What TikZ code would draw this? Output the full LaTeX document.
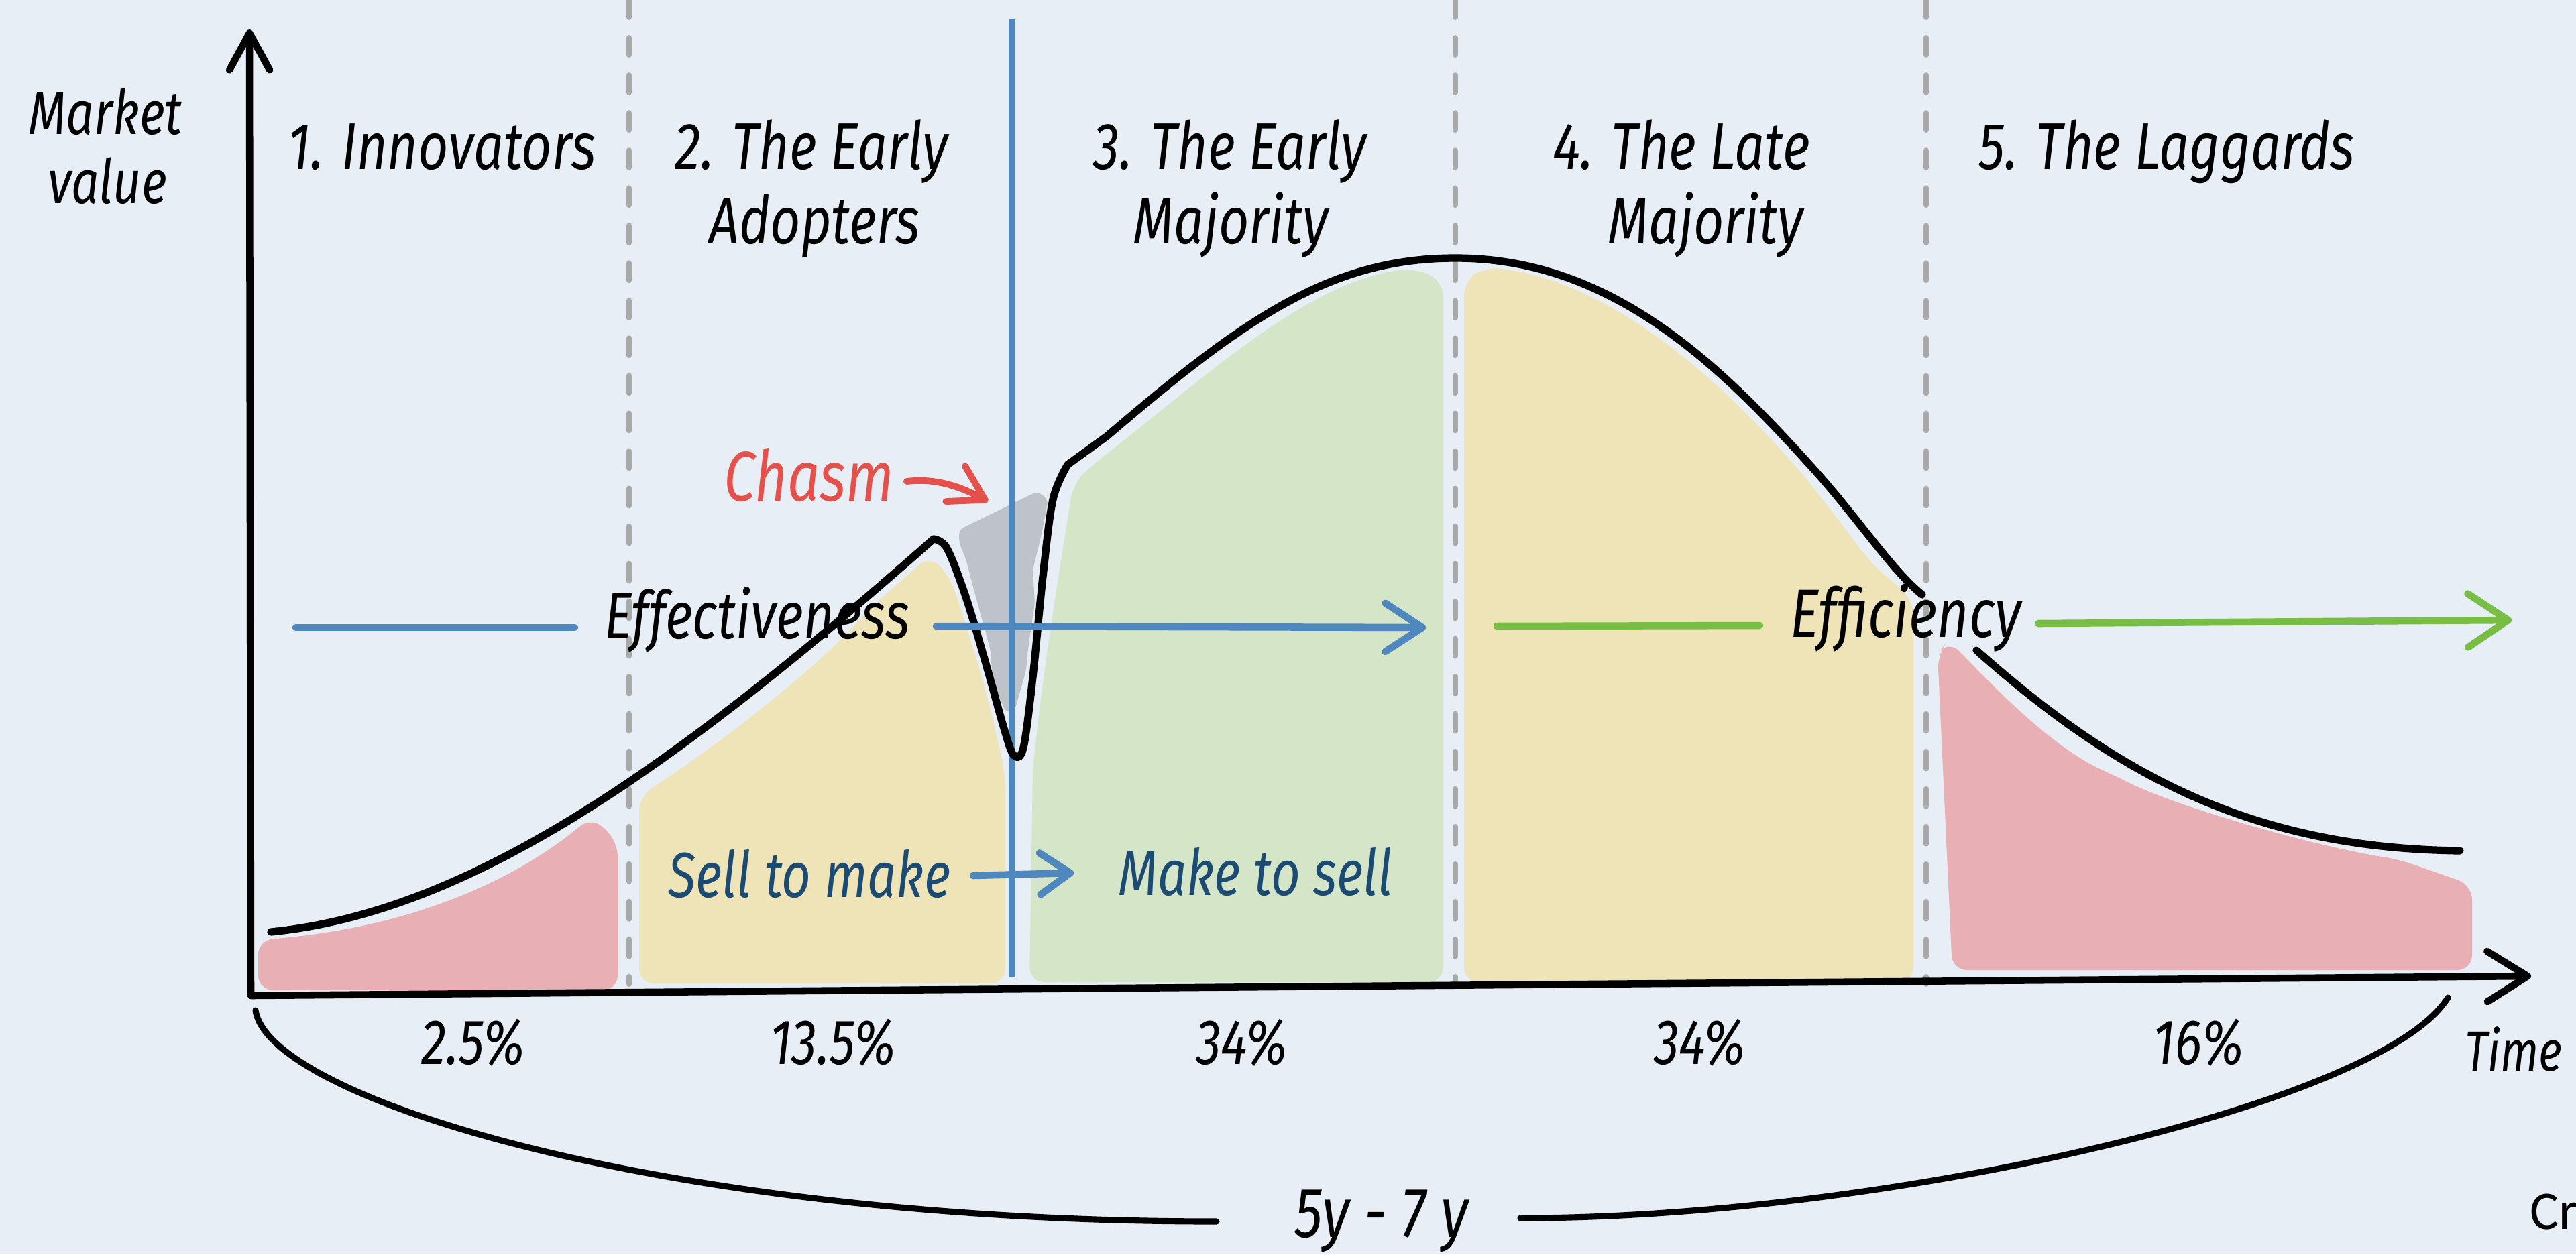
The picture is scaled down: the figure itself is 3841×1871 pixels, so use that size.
\documentclass[tikz,border=0pt]{standalone}
\usepackage{fontspec}
\newfontfamily\handfont{Fira Sans}[FakeStretch=0.8]
\newfontfamily\calibfont{Carlito}
\usetikzlibrary{arrows.meta}
\definecolor{bgc}{HTML}{E8EEF5}
\definecolor{redfill}{HTML}{E8AFB4}
\definecolor{yelfill}{HTML}{EEE4B8}
\definecolor{grnfill}{HTML}{D4E5C8}
\definecolor{chasmgray}{HTML}{BEC3C9}
\definecolor{dashgray}{HTML}{A9A9A9}
\definecolor{lineblue}{HTML}{4F87BF}
\definecolor{arrgreen}{HTML}{78BE45}
\definecolor{chasmred}{HTML}{E5504A}
\definecolor{darkblue}{HTML}{1B4B72}
\begin{document}
\begin{tikzpicture}[x=0.01cm,y=-0.01cm,
  curve/.style={line width=3.2pt,line cap=round,line join=round},
  axis/.style={line width=3pt,line cap=round,line join=round},
  ytip/.style={-{Straight Barb[length=0.55cm,width=0.6cm,round]}},
  xtip/.style={-{Straight Barb[length=0.6cm,width=0.75cm,round]}},
  divider/.style={dashgray,line width=2.2pt,line cap=round,dash pattern=on 0.26cm off 0.3cm},
  region/.style={rounded corners=0.22cm},
  brace/.style={line width=2.6pt,line cap=round},
  blueline/.style={lineblue,line width=3pt,line cap=round},
  greenline/.style={arrgreen,line width=3pt,line cap=round},
  btip/.style={-{Straight Barb[length=0.55cm,width=0.72cm,round]}},
  gtip/.style={-{Straight Barb[length=0.6cm,width=0.8cm,round]}},
  stip/.style={-{Straight Barb[length=0.45cm,width=0.62cm,round]}},
  rtip/.style={-{Straight Barb[length=0.5cm,width=0.6cm,round]}},
  handtxt/.style={font=\handfont\itshape\fontsize{#1}{#1}\selectfont,anchor=base,inner sep=0pt},
]
\useasboundingbox (0,0) rectangle (3841,1871);
\fill[bgc] (0,0) rectangle (3841,1871);

% coloured regions
\fill[redfill,region] (385,1477) -- (385,1402) .. controls (600,1385) and (760,1320) .. (882,1218) -- (921,1255) -- (921,1477) -- cycle;
\fill[yelfill,region] (953,1467) -- (953,1188) .. controls (1050,1125) and (1200,1015) .. (1300,905) -- (1387,828) -- (1417,862) .. controls (1450,960) and (1480,1060) .. (1499,1160) -- (1499,1467) -- cycle;
\fill[grnfill,region] (1535,1465) -- (1540,1150) .. controls (1555,1000) and (1580,850) .. (1600,722) -- (1625,697) .. controls (1800,560) and (1950,420) .. (2110,400) -- (2152,420) -- (2152,1465) -- cycle;
\fill[yelfill,region] (2183,1465) -- (2183,420) -- (2214,398) .. controls (2400,420) and (2560,560) .. (2700,722) -- (2790,840) -- (2853,895) -- (2853,1465) -- cycle;
\fill[redfill,region] (2911,1447) -- (2889,975) -- (2905,955) .. controls (2950,1000) and (3050,1110) .. (3153,1157) .. controls (3250,1205) and (3450,1262) .. (3577,1282) -- (3686,1320) -- (3686,1447) -- cycle;
\fill[chasmgray,rounded corners=0.08cm] (1430,790) -- (1547,733) -- (1563,745) -- (1553,797) -- (1540,850) -- (1543,900) -- (1533,967) -- (1530,1000) -- (1513,1060) -- (1500,1063) -- (1480,1017) -- (1477,970) -- (1453,883) -- (1440,833) -- (1430,810) -- cycle;

% dividers
\coordinate (d1t) at (938,0);  \coordinate (d1b) at (938,1468);
\coordinate (d2t) at (2170,0); \coordinate (d2b) at (2170,1468);
\coordinate (d3t) at (2872,0); \coordinate (d3b) at (2872,1468);
\draw[divider] (d1t) -- (d1b);
\draw[divider] (d2t) -- (d2b);
\draw[divider] (d3t) -- (d3b);

% chasm line
\coordinate (cht) at (1509,29); \coordinate (chb) at (1509,1458);
\draw[lineblue,line width=3.1pt] (cht) -- (chb);

% axes
\coordinate (O) at (374,1485);
\coordinate (Ytop) at (372,44);
\coordinate (Xend) at (3774,1456);
\draw[axis,ytip] (O) -- (Ytop);
\draw[axis,xtip] (O) -- (Xend);

% adoption curve
\draw[curve] (404,1390) .. controls (700,1360) and (1000,1150) .. (1392,804)
 -- plot[smooth,tension=0.55] coordinates {(1392,804) (1412,818) (1440,890) (1470,990) (1498,1090) (1512,1127) (1526,1115) (1540,1010) (1555,860) (1570,745) (1592,693)}
 -- (1650,651) .. controls (1850,480) and (1980,385) .. (2170,385)
 .. controls (2400,385) and (2560,540) .. (2700,695)
 .. controls (2770,772) and (2820,850) .. (2866,887);
\draw[curve] (2947,970) .. controls (3150,1150) and (3350,1265) .. (3668,1269);

% bottom brace
\coordinate (bl1) at (381,1507); \coordinate (bl2) at (1814,1822);
\coordinate (br1) at (2267,1817); \coordinate (br2) at (3650,1488);
\draw[brace] (bl1) .. controls (400,1640) and (1000,1822) .. (bl2);
\draw[brace] (br1) .. controls (2800,1817) and (3550,1650) .. (br2);

% effectiveness / efficiency arrows
\coordinate (b1) at (441,936); \coordinate (b2) at (857,936);
\coordinate (b3) at (1396,934); \coordinate (b4) at (2126,936);
\draw[blueline] (b1) -- (b2);
\draw[blueline,btip] (b3) -- (b4);
\coordinate (g1) at (2232,934); \coordinate (g2) at (2624,933);
\coordinate (g3) at (3039,930); \coordinate (g4) at (3745,925);
\draw[greenline] (g1) -- (g2);
\draw[greenline,gtip] (g3) -- (g4);

% sell -> make arrow
\coordinate (s1) at (1451,1306); \coordinate (s2) at (1601,1302);
\draw[blueline,stip] (s1) -- (s2);

% chasm arrow
\coordinate (c1) at (1352,718); \coordinate (c2) at (1473,748);
\draw[chasmred,line width=2.8pt,line cap=round,rtip] (c1) .. controls (1400,712) and (1440,730) .. (c2);

% texts
\node[handtxt=26pt] (mk1) at (157,200) {Market};
\node[handtxt=26pt] (mk2) at (160,303) {value};
\node[handtxt=28pt] (h1) at (659,252) {1. Innovators};
\node[handtxt=28pt] (h2a) at (1210,252) {2. The Early};
\node[handtxt=28pt] (h2b) at (1215,363) {Adopters};
\node[handtxt=28pt] (h3a) at (1834,252) {3. The Early};
\node[handtxt=28pt] (h3b) at (1835,363) {Majority};
\node[handtxt=28pt] (h4a) at (2507,252) {4. The Late};
\node[handtxt=28pt] (h4b) at (2543,363) {Majority};
\node[handtxt=28pt] (h5) at (3231,252) {5. The Laggards};
\node[handtxt=30pt,text=chasmred] (chasm) at (1206,747) {Chasm};
\node[handtxt=28pt] (eff) at (1129,952) {Effectiveness};
\node[handtxt=29pt] (effc) at (2842,950) {Efficiency};
\node[handtxt=27pt,text=darkblue] (stm) at (1207,1338) {Sell to make};
\node[handtxt=27pt,text=darkblue] (mts) at (1872,1335) {Make to sell};
\node[handtxt=27pt] (p1) at (706,1587) {2.5\%};
\node[handtxt=27pt] (p2) at (1242,1587) {13.5\%};
\node[handtxt=27pt] (p3) at (1852,1587) {34\%};
\node[handtxt=27pt] (p4) at (2535,1587) {34\%};
\node[handtxt=27pt] (p5) at (3278,1587) {16\%};
\node[handtxt=24pt] (time) at (3748,1597) {Time};
\node[handtxt=30pt] (dur) at (2060,1845) {5y - 7 y};
\node[font=\calibfont\fontsize{23pt}{23pt}\selectfont,anchor=base west,inner sep=0pt] (cr) at (3772,1833) {Cr};
\end{tikzpicture}
\end{document}
